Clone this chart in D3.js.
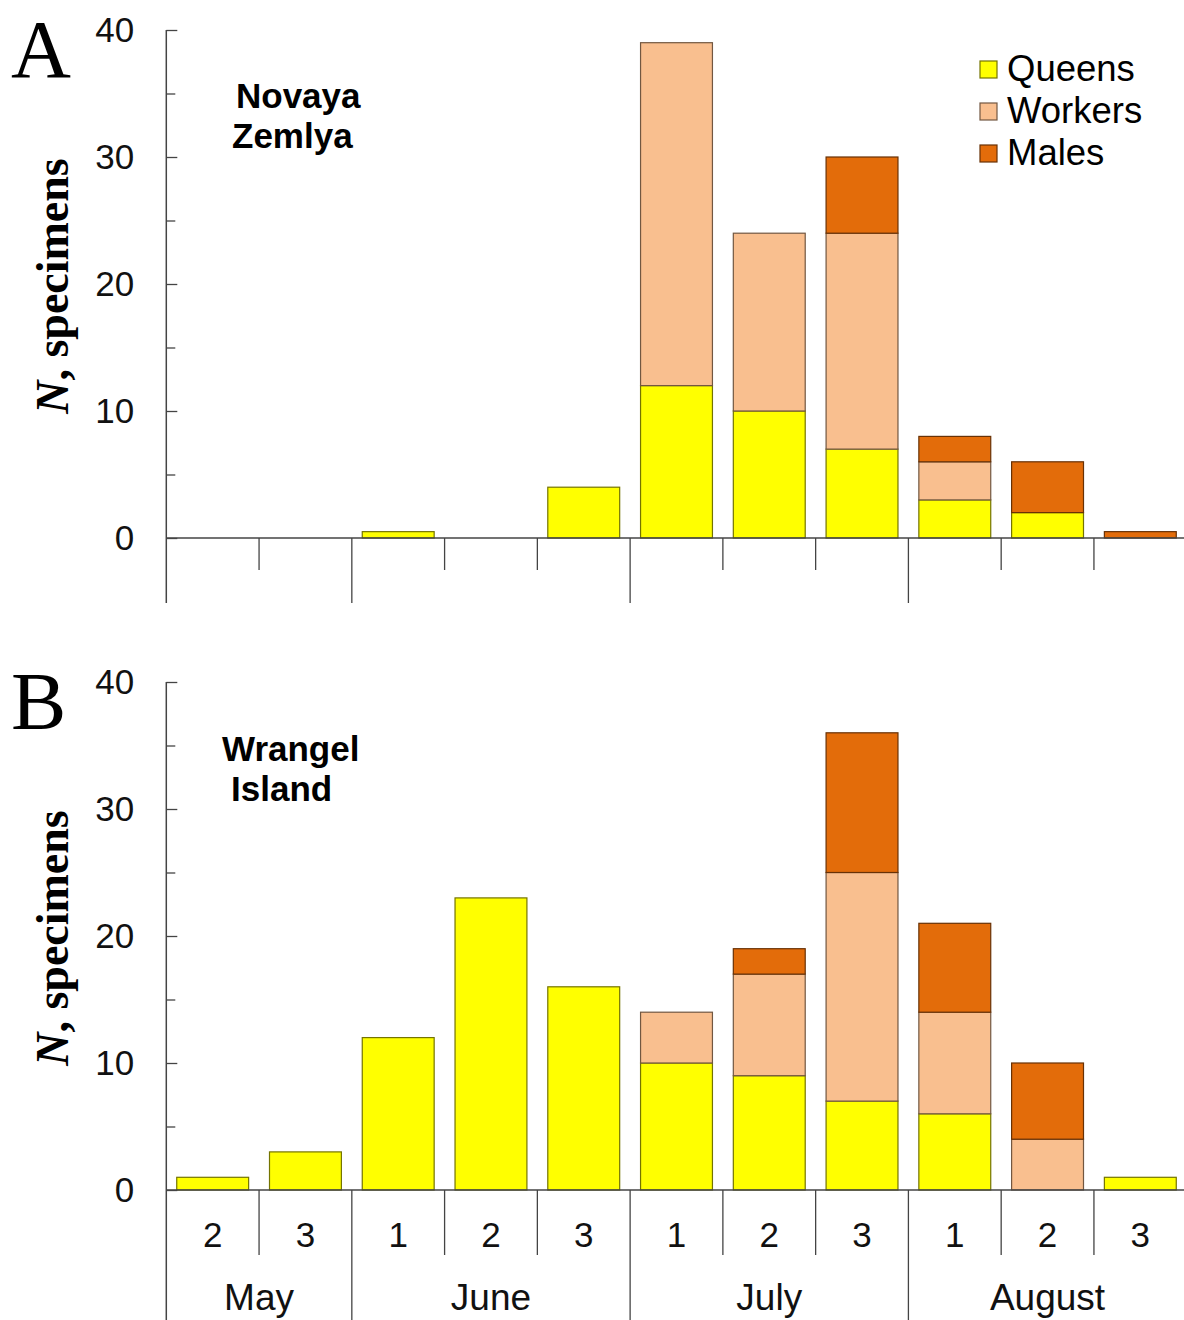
<!DOCTYPE html>
<html>
<head>
<meta charset="utf-8">
<script src="https://cdn.jsdelivr.net/npm/d3@7"></script>
<style>
  body { margin: 0; background: #fff; }
  svg { display: block; font-family: "Liberation Sans", Arial, sans-serif; }
</style>
</head>
<body>
<svg width="1184" height="1320"></svg>
<script>
var WIDTH = 1184
var HEIGHT = 1320

// ten-day periods
var periods = ["May-2", "May-3", "Jun-1", "Jun-2", "Jun-3", "Jul-1", "Jul-2", "Jul-3", "Aug-1", "Aug-2", "Aug-3"];
var decadeLabels = ["2", "3", "1", "2", "3", "1", "2", "3", "1", "2", "3"];
var months = ["May", "June", "July", "August"];
var monthSpans = [[0, 1], [2, 4], [5, 7], [8, 10]];
var castes = ["Queens", "Workers", "Males"];
var casteColors = ["#ffff00", "#f9bf8f", "#e36c0a"];

// A: Novaya Zemlya
var nzQueens  = [0, 0, 0.5, 0, 4, 12, 10, 7, 3, 2, 0];
var nzWorkers = [0, 0, 0, 0, 0, 27, 14, 17, 3, 0, 0];
var nzMales   = [0, 0, 0, 0, 0, 0, 0, 6, 2, 4, 0.5];

// B: Wrangel Island
var wiQueens  = [1, 3, 12, 23, 16, 10, 9, 7, 6, 0, 1];
var wiWorkers = [0, 0, 0, 0, 0, 4, 8, 18, 8, 4, 0];
var wiMales   = [0, 0, 0, 0, 0, 0, 2, 11, 7, 6, 0];

var yTicks = [0, 10, 20, 30, 40];
var yMinor = [5, 15, 25, 35];

var svg = d3.select("svg");

var x = d3.scaleBand()
    .domain(periods)
    .range([166.3, 1186.7])
    .paddingInner(0.225)
    .paddingOuter(0.1125);

var step = x.step();
var x0 = 166.3;

function boundary(i) { return x0 + i * step; }

function drawPanel(opts) {
    var y = d3.scaleLinear().domain([0, 40]).range([opts.zeroY, opts.zeroY - 508]);
    var g = svg.append("g");

    var rows = periods.map(function (p, i) {
        return { period: p, Queens: opts.queens[i], Workers: opts.workers[i], Males: opts.males[i] };
    });
    var stacked = d3.stack().keys(castes)(rows);

    stacked.forEach(function (layer, k) {
        var fill = casteColors[k];
        g.append("g").selectAll("rect")
            .data(layer.filter(function (d) { return d[1] - d[0] > 0; }))
            .join("rect")
            .attr("x", function (d) { return x(d.data.period); })
            .attr("y", function (d) { return y(d[1]); })
            .attr("width", x.bandwidth())
            .attr("height", function (d) { return y(d[0]) - y(d[1]); })
            .attr("fill", fill)
            .attr("stroke", d3.color(fill).darker(2.2))
            .attr("stroke-width", 1.2);
    });

    // y axis
    var axis = g.append("g")
        .attr("transform", "translate(" + x0 + ",0)")
        .call(d3.axisLeft(y).tickValues(yTicks).tickSize(-11).tickPadding(32));
    axis.select(".domain").remove();
    axis.selectAll("line").attr("stroke", "#444").attr("stroke-width", 1.3);
    axis.selectAll("text")
        .attr("font-size", 35)
        .attr("fill", "#111")
        .attr("font-family", "Liberation Sans, Arial, sans-serif");

    var minor = g.append("g")
        .attr("transform", "translate(" + x0 + ",0)")
        .call(d3.axisLeft(y).tickValues(yMinor).tickSize(-9).tickFormat(""));
    minor.select(".domain").remove();
    minor.selectAll("line").attr("stroke", "#444").attr("stroke-width", 1.3);

    // axis line
    g.append("line")
        .attr("x1", x0).attr("x2", x0)
        .attr("y1", y(40)).attr("y2", opts.bottomY)
        .attr("stroke", "#444").attr("stroke-width", 1.5);

    // baseline
    g.append("line")
        .attr("x1", x0).attr("x2", WIDTH)
        .attr("y1", y(0)).attr("y2", y(0))
        .attr("stroke", "#444").attr("stroke-width", 1.5);

    // separators
    var monthStarts = monthSpans.map(function (s) { return s[0]; });
    for (var i = 1; i < periods.length; i++) {
        var isMonth = monthStarts.indexOf(i) >= 0;
        g.append("line")
            .attr("x1", boundary(i)).attr("x2", boundary(i))
            .attr("y1", y(0))
            .attr("y2", isMonth ? opts.bottomY : y(0) + opts.decadeLen)
            .attr("stroke", "#444").attr("stroke-width", 1.3);
    }

    if (opts.labels) {
        g.append("g").selectAll("text")
            .data(periods)
            .join("text")
            .attr("x", function (d) { return x(d) + x.bandwidth() / 2; })
            .attr("y", y(0) + 57)
            .attr("text-anchor", "middle")
            .attr("font-size", 35)
            .attr("fill", "#111")
            .text(function (d, i) { return decadeLabels[i]; });

        g.append("g").selectAll("text")
            .data(months)
            .join("text")
            .attr("x", function (d, i) { return (boundary(monthSpans[i][0]) + boundary(monthSpans[i][1] + 1)) / 2; })
            .attr("y", y(0) + 120)
            .attr("text-anchor", "middle")
            .attr("font-size", 37)
            .attr("fill", "#111")
            .text(function (d) { return d; });
    }

    // panel letter
    g.append("text")
        .attr("x", 11)
        .attr("y", y(40) + 47)
        .attr("font-family", "Liberation Serif, Times New Roman, serif")
        .attr("font-size", 83)
        .attr("fill", "#000")
        .text(opts.letter);

    // y label
    var yl = g.append("text")
        .attr("transform", "translate(68," + (y(20) + 2) + ") rotate(-90)")
        .attr("text-anchor", "middle")
        .attr("font-family", "Liberation Serif, Times New Roman, serif")
        .attr("font-weight", "bold")
        .attr("font-size", 46)
        .attr("fill", "#000");
    yl.append("tspan").attr("font-style", "italic").text("N");
    yl.append("tspan").text(", specimens");

    // site name
    opts.site.forEach(function (s) {
        g.append("text")
            .attr("x", s[1])
            .attr("y", y(40) + s[2])
            .attr("font-weight", "bold")
            .attr("font-size", 35)
            .attr("fill", "#000")
            .text(s[0]);
    });
}

drawPanel({
    letter: "A", zeroY: 538, bottomY: 603, decadeLen: 32, labels: false,
    queens: nzQueens, workers: nzWorkers, males: nzMales,
    site: [["Novaya", 236, 78], ["Zemlya", 232, 118]]
});

drawPanel({
    letter: "B", zeroY: 1190, bottomY: 1320, decadeLen: 65, labels: true,
    queens: wiQueens, workers: wiWorkers, males: wiMales,
    site: [["Wrangel", 222, 79], ["Island", 231, 119]]
});

// legend
var legend = svg.append("g").selectAll("g")
    .data(castes)
    .join("g")
    .attr("transform", function (d, i) { return "translate(980," + (61 + i * 42) + ")"; });
legend.append("rect")
    .attr("width", 17).attr("height", 17)
    .attr("fill", function (d, i) { return casteColors[i]; })
    .attr("stroke", function (d, i) { return d3.color(casteColors[i]).darker(2.2); })
    .attr("stroke-width", 1.2);
legend.append("text")
    .attr("x", 27)
    .attr("y", 20)
    .attr("font-size", 36.5)
    .attr("fill", "#000")
    .text(function (d) { return d; });
</script>
</body>
</html>
